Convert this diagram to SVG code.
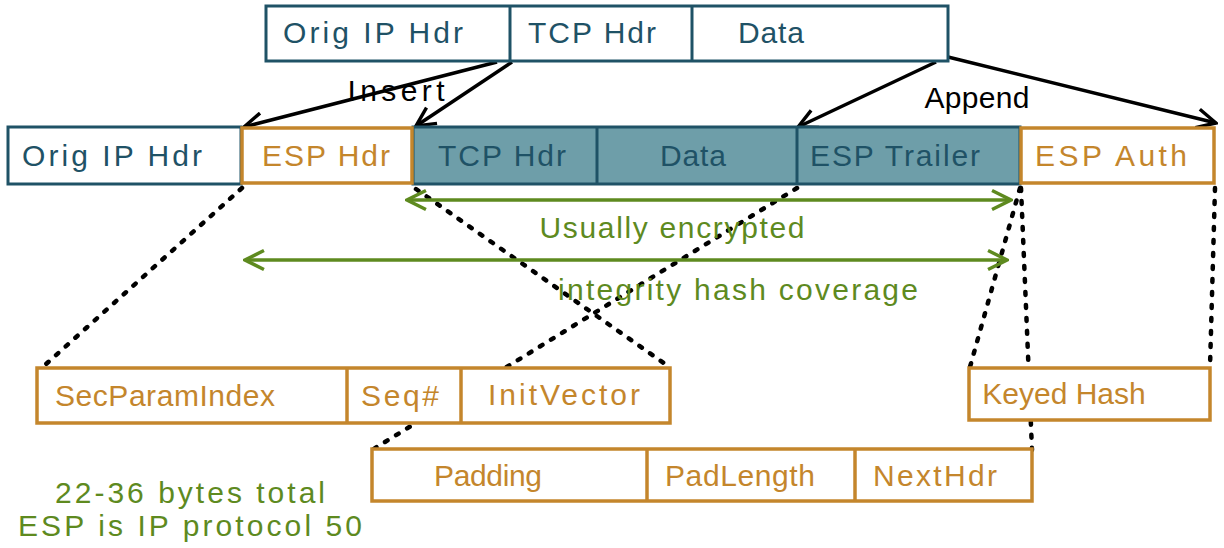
<svg xmlns="http://www.w3.org/2000/svg" width="1224" height="548" viewBox="0 0 1224 548">
<defs>
<style>
.t{font-family:"Liberation Sans",Arial,sans-serif;font-size:30px;text-anchor:middle}
.teal{fill:#1f5266}
.or{fill:#c4862c}
.gr{fill:#5e8a1f}
.bt{fill:#ffffff;stroke:#1f5266;stroke-width:3}
.bf{fill:#6e9ea9;stroke:#1f5266;stroke-width:3}
.bo{fill:#ffffff;stroke:#c4862c;stroke-width:3.5}
.dt{stroke:#1f5266;stroke-width:3}
.do{stroke:#c4862c;stroke-width:3.5}
.arr{stroke:#000;stroke-width:3.5;fill:none;marker-end:url(#ah)}
.garr{stroke:#5e8a1f;stroke-width:3.5;fill:none;marker-end:url(#gh);marker-start:url(#gh)}
.dot{stroke:#000;stroke-width:4.5;stroke-linecap:round;stroke-dasharray:3 10;fill:none}
</style>
<marker id="ah" viewBox="0 0 12 12" refX="11" refY="6" markerWidth="6.5" markerHeight="6.5" orient="auto" markerUnits="strokeWidth">
<path d="M1,1 L11,6 L1,11" fill="none" stroke="#000" stroke-width="1.8"/>
</marker>
<marker id="gh" viewBox="0 0 12 12" refX="11" refY="6" markerWidth="6.5" markerHeight="6.5" orient="auto-start-reverse" markerUnits="strokeWidth">
<path d="M1,1 L11,6 L1,11" fill="none" stroke="#5e8a1f" stroke-width="1.8"/>
</marker>
</defs>
<rect width="1224" height="548" fill="#ffffff"/>

<g id="connectors">
<line class="dot" x1="242" y1="188" x2="45" y2="365"/>
<line class="dot" x1="416" y1="189" x2="668" y2="366"/>
<line class="dot" x1="797" y1="188" x2="372" y2="450"/>
<line class="dot" x1="1020" y1="188" x2="970" y2="367"/>
<line class="dot" x1="1021" y1="188" x2="1032" y2="450"/>
<line class="dot" x1="1215" y1="188" x2="1210" y2="367"/>
<line class="arr" x1="497" y1="62" x2="244" y2="127"/>
<line class="arr" x1="512" y1="62" x2="416" y2="126"/>
<line class="arr" x1="936" y1="62" x2="798" y2="127"/>
<line class="arr" x1="948" y1="57" x2="1216" y2="123"/>
<line class="garr" x1="407" y1="200" x2="1011" y2="200"/>
<line class="garr" x1="245" y1="260" x2="1007" y2="260"/>
</g>

<g id="top-packet">
<rect class="bt" x="266" y="6" width="682" height="55"/>
<line class="dt" x1="510" y1="6" x2="510" y2="61"/>
<line class="dt" x1="692" y1="6" x2="692" y2="61"/>
<text class="t teal" x="373" y="43" textLength="180">Orig IP Hdr</text>
<text class="t teal" x="592" y="43" textLength="128">TCP Hdr</text>
<text class="t teal" x="771" y="43" textLength="66">Data</text>
</g>

<g id="orig-ip-hdr">
<rect class="bt" x="8" y="127" width="233" height="57"/>
<text class="t teal" x="112" y="166" textLength="180">Orig IP Hdr</text>
</g>
<g id="encrypted-part">
<rect class="bf" x="413" y="127" width="607" height="57"/>
<line class="dt" x1="597" y1="127" x2="597" y2="184"/>
<line class="dt" x1="797" y1="127" x2="797" y2="184"/>
<text class="t teal" x="502" y="166" textLength="128">TCP Hdr</text>
<text class="t teal" x="693" y="166" textLength="66">Data</text>
<text class="t teal" x="895" y="166" textLength="170">ESP Trailer</text>
</g>
<g id="esp-hdr">
<rect class="bo" x="242" y="128" width="170" height="55"/>
<text class="t or" x="326" y="166" textLength="128">ESP Hdr</text>
</g>
<g id="esp-auth">
<rect class="bo" x="1021" y="128" width="193" height="55"/>
<text class="t or" x="1111" y="166" textLength="152">ESP Auth</text>
</g>

<g id="labels">
<text class="t" x="396" y="101" fill="#000" textLength="97">Insert</text>
<text class="t" x="977" y="108" fill="#000" textLength="105">Append</text>
<text class="t gr" x="672" y="238" textLength="265">Usually encrypted</text>
<text class="t gr" x="738" y="300" textLength="360">integrity hash coverage</text>
<text class="t gr" x="190" y="503" textLength="270">22-36 bytes total</text>
<text class="t gr" x="190" y="536" textLength="344">ESP is IP protocol 50</text>
</g>

<g id="esp-hdr-fields">
<rect class="bo" x="37" y="368" width="633" height="55"/>
<line class="do" x1="347" y1="368" x2="347" y2="423"/>
<line class="do" x1="461" y1="368" x2="461" y2="423"/>
<text class="t or" x="165" y="406" textLength="220">SecParamIndex</text>
<text class="t or" x="400" y="406" textLength="78">Seq#</text>
<text class="t or" x="564" y="405" textLength="152">InitVector</text>
</g>

<g id="esp-trailer-fields">
<rect class="bo" x="372" y="449" width="660" height="52"/>
<line class="do" x1="647" y1="449" x2="647" y2="501"/>
<line class="do" x1="855" y1="449" x2="855" y2="501"/>
<text class="t or" x="488" y="486" textLength="108">Padding</text>
<text class="t or" x="740" y="486" textLength="150">PadLength</text>
<text class="t or" x="935" y="486" textLength="124">NextHdr</text>
</g>

<g id="keyed-hash">
<rect class="bo" x="969" y="368" width="241" height="52"/>
<text class="t or" x="1064" y="404">Keyed Hash</text>
</g>
</svg>
